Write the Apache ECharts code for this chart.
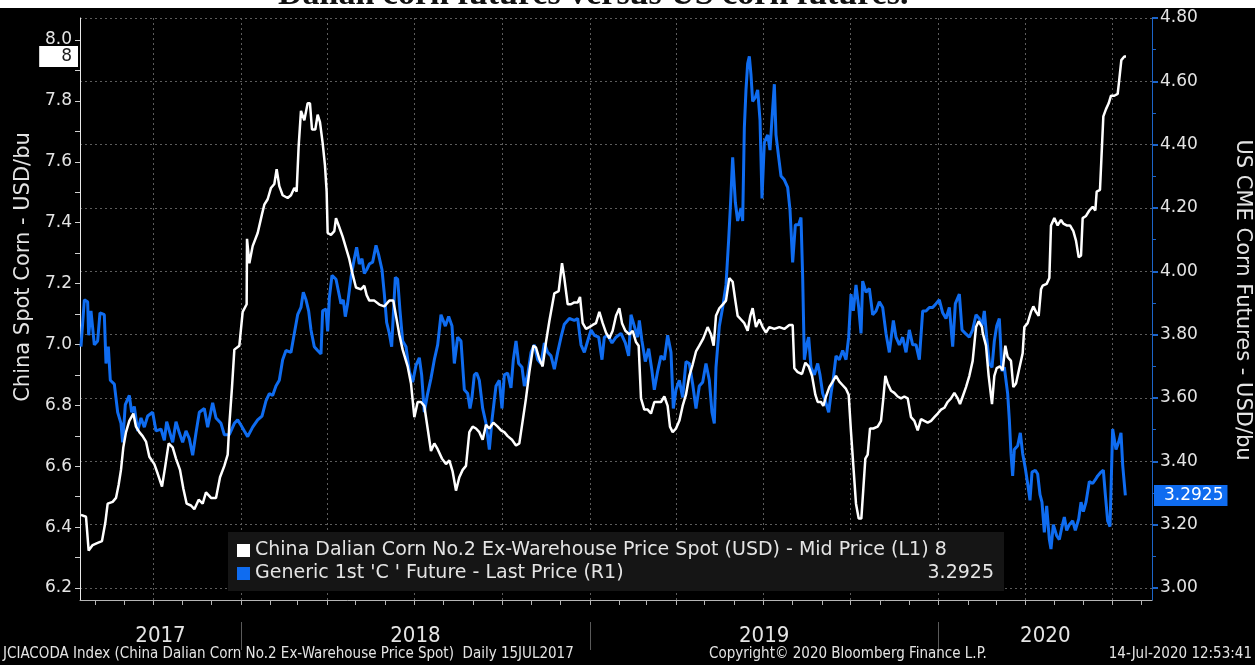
<!DOCTYPE html>
<html><head><meta charset="utf-8">
<script src="https://cdn.jsdelivr.net/npm/echarts@6/dist/echarts.min.js"></script>
<style>html,body{margin:0;padding:0;background:#fff;overflow:hidden}#c{width:1255px;height:665px}</style>
</head><body><div id="c"></div>
<script>
// ---- data (x = decimal year, y = price) ----
const chinaName = 'China Dalian Corn No.2 Ex-Warehouse Price Spot (USD) - Mid Price (L1)';
const usName = "Generic 1st 'C ' Future - Last Price (R1)";
const chinaSpot = [
[2017.5413,6.440],[2017.5557,6.434],[2017.5633,6.323],[2017.5748,6.341],[2017.5891,6.348],[2017.6015,6.354],[2017.6111,6.415],[2017.6178,6.477],[2017.6321,6.483],[2017.6417,6.496],[2017.6493,6.539],[2017.6560,6.588],[2017.6627,6.662],[2017.6704,6.712],[2017.6799,6.749],[2017.6914,6.773],[2017.6990,6.730],[2017.7086,6.712],[2017.7181,6.699],[2017.7277,6.681],[2017.7373,6.631],[2017.7516,6.607],[2017.7611,6.576],[2017.7736,6.533],[2017.7831,6.601],[2017.7927,6.675],[2017.8042,6.662],[2017.8137,6.625],[2017.8252,6.588],[2017.8347,6.527],[2017.8443,6.477],[2017.8567,6.471],[2017.8663,6.459],[2017.8787,6.490],[2017.8902,6.477],[2017.8997,6.514],[2017.9141,6.496],[2017.9284,6.496],[2017.9399,6.564],[2017.9523,6.601],[2017.9619,6.638],[2017.9666,6.736],[2017.9743,6.860],[2017.9810,6.983],[2017.9953,6.996],[2018.0049,7.107],[2018.0163,7.132],[2018.0173,7.347],[2018.0240,7.267],[2018.0335,7.323],[2018.0479,7.366],[2018.0603,7.428],
[2018.0669,7.459],[2018.0765,7.477],[2018.0860,7.514],[2018.0956,7.527],[2018.1023,7.576],[2018.1099,7.520],[2018.1195,7.490],[2018.1338,7.481],[2018.1433,7.490],[2018.1529,7.514],[2018.1596,7.502],[2018.1653,7.650],[2018.1720,7.767],[2018.1816,7.736],[2018.1911,7.792],[2018.1978,7.792],[2018.2036,7.706],[2018.2131,7.706],[2018.2198,7.755],[2018.2265,7.730],[2018.2341,7.662],[2018.2408,7.588],[2018.2456,7.502],[2018.2485,7.366],[2018.2580,7.360],[2018.2676,7.372],[2018.2724,7.415],[2018.2819,7.385],[2018.2915,7.354],[2018.3010,7.317],[2018.3106,7.280],[2018.3202,7.230],[2018.3297,7.187],[2018.3440,7.181],[2018.3536,7.193],[2018.3603,7.162],[2018.3679,7.144],[2018.3823,7.144],[2018.3966,7.131],[2018.4110,7.125],[2018.4253,7.144],[2018.4367,7.144],[2018.4444,7.094],[2018.4539,7.033],[2018.4635,6.983],[2018.4778,6.928],[2018.4874,6.872],[2018.4970,6.761],[2018.5065,6.811],[2018.5161,6.811],[2018.5256,6.798],[2018.5352,6.724],[2018.5447,6.650],[2018.5543,6.675],[2018.5639,6.656],[2018.5763,6.625],
[2018.5878,6.607],[2018.5973,6.619],[2018.6069,6.582],[2018.6164,6.520],[2018.6260,6.564],[2018.6356,6.588],[2018.6451,6.601],[2018.6547,6.712],[2018.6642,6.730],[2018.6738,6.724],[2018.6833,6.712],[2018.6929,6.687],[2018.7025,6.736],[2018.7120,6.724],[2018.7235,6.743],[2018.7359,6.730],[2018.7455,6.718],[2018.7550,6.712],[2018.7646,6.699],[2018.7770,6.687],[2018.7885,6.668],[2018.7980,6.675],[2018.8076,6.749],[2018.8171,6.823],[2018.8267,6.909],[2018.8382,6.996],[2018.8458,6.990],[2018.8554,6.952],[2018.8649,6.928],[2018.8745,7.008],[2018.8840,7.076],[2018.8984,7.168],[2018.9108,7.175],[2018.9204,7.267],[2018.9270,7.218],[2018.9366,7.132],[2018.9462,7.132],[2018.9557,7.138],[2018.9653,7.138],[2018.9720,7.156],[2018.9796,7.070],[2018.9892,7.051],[2018.9987,7.057],[2019.0083,7.064],[2019.0178,7.070],[2019.0274,7.107],[2019.0370,7.070],[2019.0465,7.039],[2019.0561,7.020],[2019.0656,7.045],[2019.0752,7.094],[2019.0847,7.119],[2019.0924,7.070],
[2019.1019,7.045],[2019.1133,7.033],[2019.1229,7.045],[2019.1324,7.008],[2019.1401,6.996],[2019.1468,6.823],[2019.1563,6.786],[2019.1659,6.786],[2019.1754,6.773],[2019.1850,6.811],[2019.1946,6.811],[2019.2041,6.811],[2019.2137,6.829],[2019.2232,6.798],[2019.2299,6.730],[2019.2376,6.712],[2019.2471,6.724],[2019.2567,6.749],[2019.2662,6.798],[2019.2758,6.835],[2019.2854,6.897],[2019.2949,6.934],[2019.3045,6.977],[2019.3140,6.996],[2019.3255,7.020],[2019.3379,7.057],[2019.3475,7.033],[2019.3551,6.996],[2019.3618,7.094],[2019.3714,7.119],[2019.3809,7.131],[2019.3905,7.144],[2019.4000,7.218],[2019.4096,7.206],[2019.4173,7.144],[2019.4239,7.094],[2019.4335,7.082],[2019.4430,7.070],[2019.4526,7.045],[2019.4602,7.094],[2019.4669,7.119],[2019.4765,7.057],[2019.4860,7.082],[2019.4956,7.057],[2019.5051,7.039],[2019.5147,7.057],[2019.5290,7.051],[2019.5434,7.057],[2019.5577,7.051],[2019.5721,7.064],[2019.5816,7.064],[2019.5864,6.922],[2019.5960,6.909],[2019.6084,6.903],
[2019.6180,6.940],[2019.6275,6.928],[2019.6371,6.897],[2019.6466,6.835],[2019.6533,6.811],[2019.6629,6.811],[2019.6696,6.798],[2019.6772,6.829],[2019.6868,6.860],[2019.6963,6.878],[2019.7059,6.897],[2019.7154,6.878],[2019.7250,6.866],[2019.7346,6.854],[2019.7422,6.835],[2019.7489,6.712],[2019.7556,6.601],[2019.7632,6.477],[2019.7709,6.428],[2019.7785,6.428],[2019.7843,6.527],[2019.7900,6.625],[2019.7967,6.638],[2019.8034,6.724],[2019.8129,6.724],[2019.8253,6.730],[2019.8349,6.749],[2019.8416,6.823],[2019.8473,6.897],[2019.8540,6.872],[2019.8636,6.848],[2019.8731,6.841],[2019.8827,6.829],[2019.8922,6.823],[2019.9018,6.829],[2019.9114,6.823],[2019.9209,6.761],[2019.9305,6.749],[2019.9400,6.718],[2019.9496,6.755],[2019.9591,6.749],[2019.9687,6.743],[2019.9783,6.749],[2019.9878,6.761],[2019.9974,6.773],[2020.0069,6.786],[2020.0165,6.792],[2020.0260,6.811],[2020.0356,6.823],[2020.0452,6.841],[2020.0547,6.823],[2020.0614,6.804],[2020.0691,6.829],[2020.0786,6.860],[2020.0882,6.897],[2020.0977,6.946],[2020.1073,7.057],[2020.1149,7.076],[2020.1245,7.057],
[2020.1263,7.039],[2020.1359,6.996],[2020.1435,6.897],[2020.1531,6.804],[2020.1598,6.897],[2020.1665,6.922],[2020.1760,6.928],[2020.1837,6.915],[2020.1913,6.996],[2020.1980,6.959],[2020.2075,6.946],[2020.2142,6.860],[2020.2219,6.872],[2020.2314,6.922],[2020.2410,6.971],[2020.2458,7.057],[2020.2553,7.070],[2020.2649,7.107],[2020.2716,7.125],[2020.2792,7.107],[2020.2869,7.094],[2020.2936,7.181],[2020.2983,7.193],[2020.3098,7.199],[2020.3175,7.218],[2020.3222,7.391],[2020.3318,7.415],[2020.3413,7.391],[2020.3509,7.409],[2020.3576,7.397],[2020.3672,7.391],[2020.3767,7.391],[2020.3863,7.372],[2020.3939,7.341],[2020.4016,7.286],[2020.4083,7.292],[2020.4130,7.415],[2020.4226,7.422],[2020.4321,7.440],[2020.4417,7.452],[2020.4493,7.440],[2020.4532,7.502],[2020.4627,7.508],[2020.4684,7.514],[2020.4723,7.749],[2020.4799,7.773],[2020.4876,7.792],[2020.4943,7.817],[2020.5038,7.817],[2020.5134,7.823],[2020.5182,7.872],[2020.5239,7.934],[2020.5325,7.946],[2020.5373,7.946]
];
const usFuture = [
[2017.5413,3.762],[2017.5509,3.910],[2017.5604,3.904],[2017.5633,3.798],[2017.5700,3.875],[2017.5748,3.881],[2017.5796,3.768],[2017.5891,3.780],[2017.5958,3.869],[2017.6082,3.863],[2017.6130,3.709],[2017.6197,3.762],[2017.6254,3.656],[2017.6369,3.644],[2017.6465,3.555],[2017.6560,3.520],[2017.6608,3.460],[2017.6684,3.579],[2017.6799,3.608],[2017.6866,3.555],[2017.6942,3.573],[2017.7038,3.496],[2017.7134,3.537],[2017.7229,3.508],[2017.7325,3.543],[2017.7468,3.555],[2017.7564,3.496],[2017.7707,3.502],[2017.7803,3.466],[2017.7870,3.525],[2017.7946,3.496],[2017.8042,3.460],[2017.8137,3.525],[2017.8233,3.490],[2017.8328,3.460],[2017.8424,3.496],[2017.8519,3.472],[2017.8615,3.419],[2017.8711,3.490],[2017.8806,3.555],[2017.8949,3.567],[2017.9045,3.508],[2017.9188,3.585],[2017.9284,3.537],[2017.9427,3.520],[2017.9523,3.484],[2017.9666,3.484],[2017.9810,3.520],[2017.9905,3.531],[2018.0001,3.514],[2018.0096,3.496],[2018.0192,3.478],[2018.0335,3.508],[2018.0479,3.531],[2018.0603,3.543],
[2018.0717,3.591],[2018.0812,3.614],[2018.0908,3.608],[2018.1003,3.638],[2018.1099,3.656],[2018.1195,3.721],[2018.1290,3.750],[2018.1433,3.744],[2018.1529,3.804],[2018.1625,3.863],[2018.1720,3.886],[2018.1787,3.934],[2018.1864,3.910],[2018.1940,3.875],[2018.2007,3.815],[2018.2102,3.762],[2018.2198,3.750],[2018.2294,3.739],[2018.2341,3.875],[2018.2437,3.881],[2018.2485,3.810],[2018.2533,3.916],[2018.2609,3.987],[2018.2724,3.975],[2018.2800,3.934],[2018.2867,3.898],[2018.2934,3.910],[2018.2991,3.857],[2018.3058,3.898],[2018.3154,3.981],[2018.3249,4.040],[2018.3316,4.076],[2018.3393,4.023],[2018.3469,4.040],[2018.3536,3.993],[2018.3603,4.005],[2018.3679,4.023],[2018.3775,4.029],[2018.3871,4.082],[2018.3947,4.052],[2018.4043,4.005],[2018.4110,3.928],[2018.4176,3.839],[2018.4253,3.804],[2018.4320,3.762],[2018.4367,3.863],[2018.4425,3.981],[2018.4492,3.975],[2018.4559,3.875],[2018.4635,3.780],[2018.4731,3.762],[2018.4826,3.685],[2018.4922,3.650],[2018.5017,3.703],[2018.5113,3.727],[2018.5180,3.673],[2018.5256,3.555],[2018.5352,3.614],[2018.5447,3.662],[2018.5543,3.721],[2018.5639,3.768],[2018.5734,3.863],
[2018.5859,3.827],[2018.5954,3.857],[2018.6050,3.827],[2018.6117,3.709],[2018.6212,3.792],[2018.6308,3.780],[2018.6403,3.626],[2018.6499,3.614],[2018.6566,3.567],[2018.6623,3.602],[2018.6690,3.673],[2018.6757,3.679],[2018.6833,3.656],[2018.6929,3.567],[2018.7025,3.520],[2018.7120,3.437],[2018.7197,3.531],[2018.7311,3.638],[2018.7407,3.656],[2018.7483,3.567],[2018.7550,3.673],[2018.7646,3.679],[2018.7741,3.632],[2018.7808,3.721],[2018.7885,3.780],[2018.7961,3.709],[2018.8057,3.697],[2018.8124,3.638],[2018.8219,3.673],[2018.8315,3.744],[2018.8410,3.768],[2018.8506,3.721],[2018.8601,3.709],[2018.8697,3.774],[2018.8793,3.744],[2018.8888,3.733],[2018.8984,3.691],[2018.9079,3.744],[2018.9175,3.792],[2018.9270,3.833],[2018.9414,3.851],[2018.9557,3.845],[2018.9653,3.851],[2018.9748,3.768],[2018.9844,3.744],[2018.9939,3.780],[2019.0035,3.815],[2019.0130,3.798],[2019.0255,3.792],[2019.0350,3.721],[2019.0417,3.792],[2019.0513,3.798],[2019.0637,3.774],[2019.0752,3.792],[2019.0895,3.804],
[2019.1019,3.774],[2019.1114,3.733],[2019.1181,3.863],[2019.1277,3.827],[2019.1372,3.792],[2019.1420,3.845],[2019.1496,3.780],[2019.1592,3.715],[2019.1688,3.756],[2019.1783,3.685],[2019.1850,3.626],[2019.1946,3.685],[2019.2041,3.733],[2019.2137,3.721],[2019.2232,3.798],[2019.2328,3.744],[2019.2395,3.567],[2019.2471,3.626],[2019.2567,3.656],[2019.2662,3.602],[2019.2758,3.715],[2019.2854,3.709],[2019.2949,3.644],[2019.3045,3.567],[2019.3140,3.638],[2019.3236,3.650],[2019.3331,3.709],[2019.3427,3.656],[2019.3503,3.555],[2019.3570,3.520],[2019.3618,3.697],[2019.3714,3.827],[2019.3809,3.886],[2019.3905,3.957],[2019.3981,4.099],[2019.4029,4.200],[2019.4096,4.360],[2019.4173,4.218],[2019.4239,4.159],[2019.4335,4.200],[2019.4383,4.159],[2019.4431,4.454],[2019.4478,4.573],[2019.4526,4.656],[2019.4574,4.679],[2019.4622,4.620],[2019.4669,4.537],[2019.4746,4.549],[2019.4813,4.573],[2019.4880,4.478],[2019.4937,4.230],[2019.5004,4.407],[2019.5100,4.431],[2019.5166,4.383],[2019.5243,4.514],[2019.5291,4.591],[2019.5338,4.431],[2019.5415,4.360],[2019.5482,4.301],[2019.5577,4.289],[2019.5673,4.265],[2019.5740,4.194],[2019.5816,4.028],[2019.5893,4.147],[2019.5988,4.147],[2019.6055,4.170],
[2019.6103,3.981],[2019.6151,3.721],[2019.6218,3.768],[2019.6275,3.792],[2019.6342,3.697],[2019.6438,3.673],[2019.6533,3.709],[2019.6600,3.673],[2019.6677,3.614],[2019.6753,3.591],[2019.6849,3.555],[2019.6915,3.614],[2019.6982,3.662],[2019.7059,3.733],[2019.7154,3.721],[2019.7250,3.750],[2019.7346,3.721],[2019.7422,3.792],[2019.7489,3.928],[2019.7556,3.875],[2019.7632,3.957],[2019.7709,3.886],[2019.7776,3.804],[2019.7823,3.969],[2019.7919,3.934],[2019.8015,3.946],[2019.8110,3.863],[2019.8206,3.875],[2019.8301,3.904],[2019.8397,3.886],[2019.8492,3.804],[2019.8588,3.744],[2019.8703,3.845],[2019.8779,3.792],[2019.8875,3.768],[2019.8970,3.792],[2019.9066,3.744],[2019.9161,3.815],[2019.9257,3.768],[2019.9353,3.768],[2019.9448,3.721],[2019.9544,3.875],[2019.9639,3.875],[2019.9735,3.886],[2019.9830,3.886],[2019.9926,3.898],[2020.0021,3.910],[2020.0117,3.869],[2020.0213,3.851],[2020.0308,3.886],[2020.0404,3.762],[2020.0480,3.898],[2020.0595,3.928],[2020.0671,3.815],[2020.0767,3.804],[2020.0882,3.792],[2020.0977,3.815],[2020.1073,3.863],[2020.1168,3.851],[2020.1245,3.827],
[2020.1311,3.875],[2020.1378,3.792],[2020.1454,3.709],[2020.1531,3.697],[2020.1598,3.780],[2020.1665,3.827],[2020.1741,3.851],[2020.1817,3.685],[2020.1884,3.697],[2020.1980,3.614],[2020.2028,3.531],[2020.2075,3.425],[2020.2123,3.354],[2020.2171,3.437],[2020.2267,3.449],[2020.2343,3.490],[2020.2410,3.425],[2020.2486,3.378],[2020.2553,3.330],[2020.2620,3.277],[2020.2678,3.366],[2020.2773,3.372],[2020.2840,3.360],[2020.2907,3.295],[2020.2964,3.271],[2020.3031,3.176],[2020.3098,3.259],[2020.3175,3.153],[2020.3222,3.123],[2020.3289,3.200],[2020.3385,3.165],[2020.3461,3.153],[2020.3538,3.194],[2020.3605,3.224],[2020.3672,3.182],[2020.3748,3.200],[2020.3844,3.212],[2020.3920,3.182],[2020.4016,3.218],[2020.4083,3.271],[2020.4150,3.241],[2020.4226,3.271],[2020.4321,3.336],[2020.4417,3.330],[2020.4493,3.342],[2020.4560,3.354],[2020.4656,3.366],[2020.4723,3.372],[2020.4780,3.295],[2020.4847,3.212],[2020.4914,3.194],[2020.4990,3.502],[2020.5038,3.496],[2020.5086,3.437],[2020.5163,3.461],[2020.5229,3.490],[2020.5277,3.389],[2020.5354,3.2925]
];
const leftLabels = [6.2, 6.4, 6.6, 6.8, 7.0, 7.2, 7.4, 7.6, 7.8, 8.0];
const leftMinor = [6.2,6.3,6.4,6.5,6.6,6.7,6.8,6.9,7.0,7.1,7.2,7.3,7.4,7.5,7.6,7.7,7.8,7.9,8.0];
const years = [2017, 2018, 2019, 2020];
const X_MIN = 2017.5385, X_MAX = 2020.6118;       // visible date window
const YL_MIN = 6.1606, YL_MAX = 8.0723;           // left axis window
const YR_MIN = 3.0, YR_MAX = 4.8, YR_STEP = 0.2;  // right axis

// ---- derived helpers ----
function decYear(y, m) {
  const s = Date.UTC(y, 0, 1), e = Date.UTC(y + 1, 0, 1);
  return y + (Date.UTC(y, m, 1) - s) / (e - s);
}
const monthTicks = [], quarterTicks = [];
years.forEach(y => { for (let m = 0; m < 12; m++) { const v = decYear(y, m); if (v >= X_MIN && v <= X_MAX) { monthTicks.push(v); if (m % 3 === 0) quarterTicks.push(v); } } });
const yearStarts = years.slice(1);
const yearMids = years.map(y => (Math.max(y, X_MIN) + Math.min(y + 1, X_MAX)) / 2);
const lastChina = chinaSpot[chinaSpot.length - 1][1];
const lastUS = usFuture[usFuture.length - 1][1];
const chinaTag = String(Math.round(lastChina));
const usTag = String(lastUS);

const BLUE = '#0f6cf0';
const TXT = '#e4e4e4';
const SANS = 'DejaVu Sans';
const NARROW = "'Liberation Sans Narrow', 'DejaVu Sans Condensed', sans-serif";

const chart = echarts.init(document.getElementById('c'), null, {renderer: 'canvas'});
const gridPos = {left: 80, right: 103};
chart.setOption({
  backgroundColor: '#000',
  animation: false,
  axisPointer: {triggerOn: 'none'},
  graphic: [{type: 'rect', left: 0, top: 0, z: 0, shape: {width: 1255, height: 8}, style: {fill: '#fff'}}],
  title: [
    {text: 'Dalian corn futures versus US corn futures.', left: 278, top: -22, padding: 0, z: 10,
     textStyle: {fontFamily: "'Liberation Serif', serif", fontWeight: 'bold', fontSize: 34, color: '#111'}},
    {text: 'JCIACODA Index (China Dalian Corn No.2 Ex-Warehouse Price Spot)  Daily 15JUL2017', left: 3, top: 647, padding: 0,
     textStyle: {fontFamily: NARROW, fontWeight: 'normal', fontSize: 15, color: TXT}},
    {text: 'Copyright\u00a9 2020 Bloomberg Finance L.P.', left: 709, top: 647, padding: 0,
     textStyle: {fontFamily: NARROW, fontWeight: 'normal', fontSize: 15, color: TXT}},
    {text: '14-Jul-2020 12:53:41', right: 3, top: 647, padding: 0,
     textStyle: {fontFamily: NARROW, fontWeight: 'normal', fontSize: 15, color: TXT}}
  ],
  legend: {
    orient: 'vertical', left: 228, top: 532, padding: [9, 10, 8, 9], itemGap: 4,
    itemWidth: 13, itemHeight: 13, icon: 'rect', backgroundColor: '#151515',
    selectedMode: false,
    data: [chinaName, usName],
    textStyle: {color: TXT, fontFamily: SANS, fontSize: 19,
      rich: {n: {color: TXT, fontFamily: SANS, fontSize: 19, width: 667},
             v: {color: TXT, fontFamily: SANS, fontSize: 19, width: 72, align: 'right'}}},
    formatter: name => name === chinaName ? name + ' ' + chinaTag : '{n|' + name + '}{v|' + usTag + '}'
  },
  grid: [
    Object.assign({top: 18, bottom: 65, outerBoundsMode: 'none'}, gridPos),
    Object.assign({top: 18, bottom: 77, outerBoundsMode: 'none'}, gridPos)
  ],
  xAxis: [
    {gridIndex: 0, type: 'value', position: 'bottom', min: X_MIN, max: X_MAX,
     axisLine: {show: true, lineStyle: {color: '#b5b5b5', width: 1}},
     axisTick: {show: true, customValues: monthTicks, length: 5, lineStyle: {color: '#b5b5b5'}},
     axisLabel: {show: false}, splitLine: {show: false}},
    {gridIndex: 0, type: 'value', position: 'bottom', offset: 22, min: X_MIN, max: X_MAX,
     axisLine: {show: false},
     axisTick: {show: true, customValues: yearStarts, length: 28, lineStyle: {color: '#5a5a5a'}},
     axisLabel: {show: true, customValues: yearMids, margin: 3, color: TXT, fontFamily: NARROW, fontSize: 22,
                 formatter: v => String(Math.floor(v))},
     splitLine: {show: false}},
    {gridIndex: 0, type: 'value', position: 'top', min: X_MIN, max: X_MAX,
     axisLine: {show: false}, axisLabel: {show: false},
     axisTick: {show: false, customValues: quarterTicks},
     splitLine: {show: true, lineStyle: {color: '#5c5c5c', type: [2, 3], width: 1}}},
    {gridIndex: 1, type: 'value', show: false, min: X_MIN, max: X_MAX, splitLine: {show: false}}
  ],
  yAxis: [
    {gridIndex: 0, type: 'value', position: 'left', min: YL_MIN, max: YL_MAX,
     axisLine: {show: true, lineStyle: {color: '#e8e8e8', width: 1}},
     axisTick: {show: true, customValues: leftMinor, length: 5, lineStyle: {color: '#d0d0d0'}},
     axisLabel: {show: true, customValues: leftLabels, margin: 8, color: TXT, fontFamily: SANS, fontSize: 17,
                 formatter: v => v.toFixed(1)},
     splitLine: {show: false},
     name: 'China Spot Corn - USD/bu', nameLocation: 'middle', nameRotate: 90, nameGap: 46,
     nameTextStyle: {color: TXT, fontFamily: SANS, fontSize: 21, padding: [0, 0, 0, 84]},
     axisPointer: {show: true, type: 'line', value: lastChina, status: 'show', triggerTooltip: false,
       lineStyle: {opacity: 0},
       label: {show: true, formatter: () => chinaTag, backgroundColor: '#ffffff', color: '#1a1a1a',
               fontFamily: SANS, fontSize: 17, padding: [2, 6, 2, 22], margin: 2, borderRadius: 0}}},
    {gridIndex: 0, type: 'value', position: 'right', min: 0, max: 1,
     axisLine: {show: true, lineStyle: {color: '#1c64c8', width: 1}},
     axisTick: {show: false}, axisLabel: {show: false}, splitLine: {show: false}},
    {gridIndex: 1, type: 'value', position: 'right', min: YR_MIN, max: YR_MAX, interval: YR_STEP,
     axisLine: {show: false},
     axisTick: {show: true, length: 6, lineStyle: {color: '#1c64c8', width: 2}},
     minorTick: {show: true, splitNumber: 2, length: 4, lineStyle: {color: '#1c64c8'}},
     axisLabel: {show: true, margin: 8, color: TXT, fontFamily: SANS, fontSize: 17, formatter: v => v.toFixed(2)},
     splitLine: {show: true, lineStyle: {color: '#5c5c5c', type: [2, 3], width: 1}},
     name: 'US CME Corn Futures - USD/bu', nameLocation: 'middle', nameRotate: -90, nameGap: 80,
     nameTextStyle: {color: TXT, fontFamily: SANS, fontSize: 21, padding: [0, 6, 0, 0]},
     axisPointer: {show: true, type: 'line', value: lastUS, status: 'show', triggerTooltip: false,
       lineStyle: {opacity: 0},
       label: {show: true, formatter: () => usTag, backgroundColor: BLUE, color: '#ffffff',
               fontFamily: SANS, fontSize: 17, padding: [2, 4, 2, 10], margin: 2, borderRadius: 0}}}
  ],
  series: [
    {name: chinaName, type: 'line', xAxisIndex: 0, yAxisIndex: 0, data: chinaSpot, showSymbol: false,
     symbol: 'none', color: '#ffffff', lineStyle: {color: '#ffffff', width: 2.5}, z: 4, clip: false},
    {name: usName, type: 'line', xAxisIndex: 3, yAxisIndex: 2, data: usFuture, showSymbol: false,
     symbol: 'none', color: BLUE, lineStyle: {color: BLUE, width: 3}, z: 3, clip: false}
  ]
});
</script></body></html>
